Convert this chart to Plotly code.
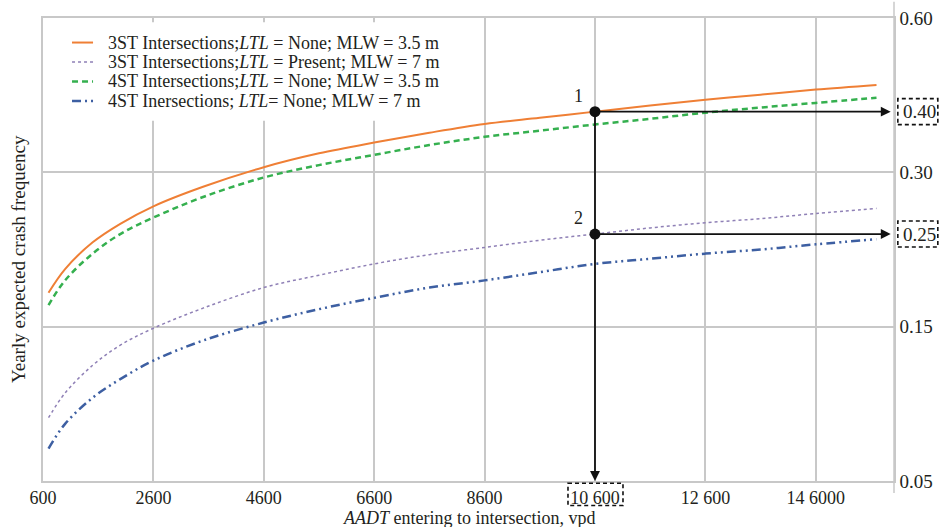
import numpy as np
import plotly.graph_objects as go

# ---------------- data ----------------
AADT = [700, 1000, 1500, 2000, 2600, 3500, 4600, 5600, 6600, 7600, 8600,
        9600, 10600, 11600, 12600, 13600, 14600, 15700]

ST3_NONE_35 = [0.183, 0.206, 0.232, 0.250, 0.267, 0.286, 0.310, 0.337, 0.358,
               0.377, 0.394, 0.406, 0.418, 0.430, 0.441, 0.451, 0.461, 0.470]
ST3_PRES_7 = [0.091, 0.107, 0.125, 0.138, 0.149, 0.168, 0.188, 0.200, 0.211,
              0.220, 0.227, 0.234, 0.240, 0.246, 0.251, 0.255, 0.260, 0.265]
ST4_NONE_35 = [0.171, 0.195, 0.221, 0.240, 0.256, 0.276, 0.295, 0.314, 0.334,
               0.353, 0.369, 0.381, 0.393, 0.404, 0.416, 0.426, 0.435, 0.445]
ST4_NONE_7 = [0.071, 0.087, 0.104, 0.116, 0.128, 0.141, 0.154, 0.167, 0.178,
              0.188, 0.195, 0.203, 0.211, 0.216, 0.221, 0.225, 0.230, 0.235]

SERIES_NAMES = [
    "3ST Intersections;<i>LTL</i> = None; MLW = 3.5 m",
    "3ST Intersections;<i>LTL</i> = Present; MLW = 7 m",
    "4ST Intersections;<i>LTL</i> = None; MLW = 3.5 m",
    "4ST Inersections; <i>LTL</i>= None; MLW = 7 m",
]

X_TICKS = [600, 2600, 4600, 6600, 8600, 10600, 12600, 14600]
X_TICK_TEXT = ["600", "2600", "4600", "6600", "8600", "10 600", "12 600", "14 6000"]
Y_TICKS = [0.05, 0.15, 0.30, 0.60]
Y_TICK_TEXT = ["0.05", "0.15", "0.30", "0.60"]

POINT_AADT = 10600
POINT_LABELS = ["1", "2"]
POINT_VALUE_TEXT = ["0.40", "0.25"]

# ------------- scale (equal spacing between labelled ticks) -------------
Y_POS = np.arange(len(Y_TICKS))


def to_axis(v):
    return np.interp(v, Y_TICKS, Y_POS)


FONT = "Liberation Serif"
TXT = "#231f20"
GRID = "#c8c8c8"
X_MAX = 16017

fig = go.Figure()

styles = [
    dict(color="#ef7f35", width=2, dash="solid"),
    dict(color="#8f80b6", width=1.5, dash="dot"),
    dict(color="#35b04f", width=2.5, dash="6px,4px"),
    dict(color="#3d5fa2", width=2.5, dash="9px,4px,2px,4px,2px,4px"),
]
series = [ST3_NONE_35, ST3_PRES_7, ST4_NONE_35, ST4_NONE_7]
for name, vals, st in zip(SERIES_NAMES, series, styles):
    fig.add_trace(go.Scatter(x=AADT, y=to_axis(vals), mode="lines", name=name,
                             line=dict(shape="spline", smoothing=1.0, **st),
                             showlegend=False, hoverinfo="skip"))

# points 1 and 2
p_vals = [float(np.interp(POINT_AADT, AADT, ST3_NONE_35)),
          float(np.interp(POINT_AADT, AADT, ST3_PRES_7))]
p_pos = to_axis(p_vals)

annotations = []
shapes = []

# ---- legend (drawn inside the plot, top-left, on white background) ----
shapes.append(dict(type="rect", xref="paper", yref="paper", layer="above",
                   x0=0.0015, x1=0.505, y0=0.778, y1=0.991,
                   fillcolor="white", line=dict(width=0)))
LEG_Y = [0.947, 0.905, 0.863, 0.821]
for name, st, ly in zip(SERIES_NAMES, styles, LEG_Y):
    shapes.append(dict(type="line", xref="paper", yref="paper", layer="above",
                       x0=0.0341, x1=0.0588, y0=ly, y1=ly,
                       line=dict(color=st["color"], width=st["width"],
                                 dash=st["dash"])))
    annotations.append(dict(x=0.074, y=ly, xref="paper", yref="paper",
                            text=name, showarrow=False, xanchor="left",
                            yanchor="middle",
                            font=dict(family=FONT, size=18, color=TXT)))

# vertical arrow from point 1 to the x-axis
annotations.append(dict(x=POINT_AADT, y=0, ax=POINT_AADT, ay=p_pos[0],
                        xref="x", yref="y", axref="x", ayref="y",
                        showarrow=True, arrowhead=2, arrowsize=1.1,
                        arrowwidth=1.8, arrowcolor="#111", text="",
                        standoff=0, startstandoff=0))
for i in range(2):
    annotations.append(dict(x=X_MAX - 60, y=p_pos[i], ax=POINT_AADT, ay=p_pos[i],
                            xref="x", yref="y", axref="x", ayref="y",
                            showarrow=True, arrowhead=2, arrowsize=1.1,
                            arrowwidth=1.8, arrowcolor="#111", text="",
                            standoff=0))
    annotations.append(dict(x=POINT_AADT, y=p_pos[i], xref="x", yref="y",
                            text=POINT_LABELS[i], showarrow=False,
                            xshift=-16, yshift=16,
                            font=dict(family=FONT, size=18, color=TXT)))
    annotations.append(dict(x=1, y=p_pos[i], xref="paper", yref="y",
                            text=POINT_VALUE_TEXT[i], showarrow=False,
                            xanchor="left", xshift=7,
                            font=dict(family=FONT, size=19, color=TXT)))
    shapes.append(dict(type="rect", xref="paper", yref="y", ysizemode="pixel",
                       yanchor=float(p_pos[i]), y0=-13, y1=13,
                       x0=1.0045, x1=1.0515,
                       line=dict(color="#111", width=1.6, dash="4px,3px")))

# dashed box around the 10 600 tick label
shapes.append(dict(type="rect", xref="x", yref="paper", xsizemode="pixel",
                   xanchor=POINT_AADT, x0=-27, x1=28, y0=-0.005, y1=-0.053,
                   line=dict(color="#111", width=1.6, dash="4px,3px")))
# right spine extending a bit beyond plot
shapes.append(dict(type="line", xref="paper", yref="paper", x0=1, x1=1,
                   y0=-0.026, y1=1.035, line=dict(color=GRID, width=1.5)))

# axis titles
annotations.append(dict(x=-0.029, y=0.48, xref="paper", yref="paper",
                        text="Yearly expected crash frequency", textangle=-90,
                        showarrow=False, xanchor="center", yanchor="middle",
                        font=dict(family=FONT, size=19, color=TXT)))
annotations.append(dict(x=0.5, y=-0.079, xref="paper", yref="paper",
                        text="<i>AADT</i> entering to intersection, vpd",
                        showarrow=False, xanchor="center", yanchor="middle",
                        font=dict(family=FONT, size=18, color=TXT)))

fig.add_trace(go.Scatter(x=[POINT_AADT, POINT_AADT], y=p_pos, mode="markers",
                         marker=dict(color="#111", size=11), showlegend=False,
                         hoverinfo="skip"))

fig.update_layout(
    width=940, height=527,
    margin=dict(l=43, r=46, t=18, b=46, autoexpand=False),
    plot_bgcolor="white", paper_bgcolor="white",
    font=dict(family=FONT, size=19, color=TXT),
    showlegend=False,
    annotations=annotations,
    shapes=shapes,
)

fig.update_xaxes(range=[600, X_MAX], tickvals=X_TICKS, ticktext=X_TICK_TEXT,
                 showgrid=True, gridcolor=GRID, gridwidth=1.5,
                 showline=True, linecolor=GRID, linewidth=1.5, mirror=True,
                 zeroline=False, ticks="", tickfont=dict(size=18),
                 automargin=False)
fig.update_yaxes(range=[0, 3], tickvals=list(Y_POS), ticktext=Y_TICK_TEXT,
                 side="right", showgrid=True, gridcolor=GRID, gridwidth=1.5,
                 showline=True, linecolor=GRID, linewidth=1.5, mirror=True,
                 zeroline=False, ticks="", tickfont=dict(size=19),
                 automargin=False)

fig.write_html(
    "out.html",
    config={"displayModeBar": False},
    post_script="document.body.style.margin='0';document.body.style.overflow='hidden';",
)
